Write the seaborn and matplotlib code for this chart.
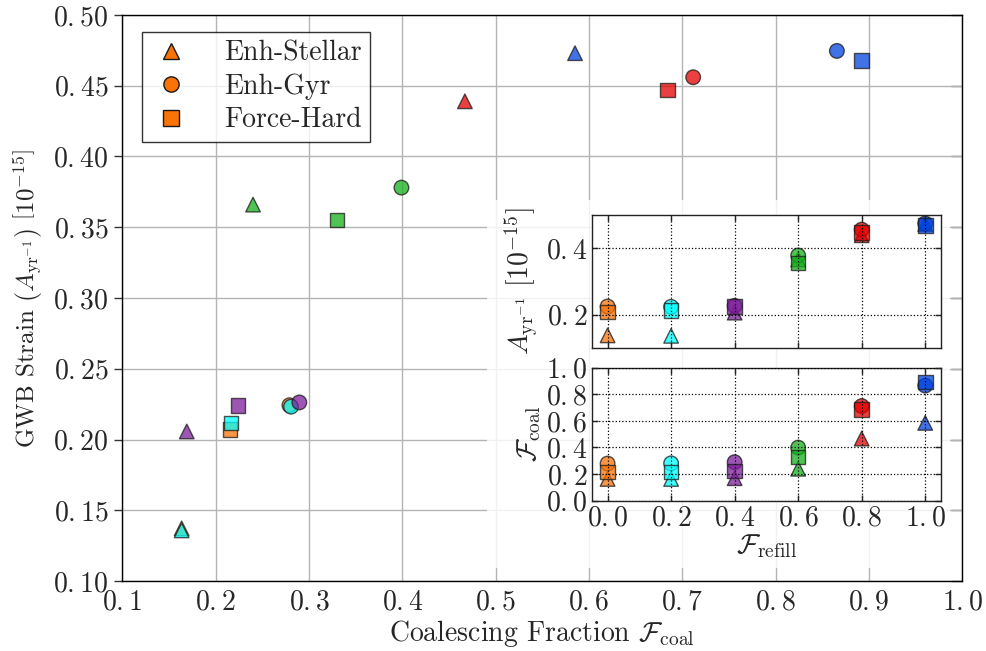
import matplotlib
matplotlib.use("Agg")
import matplotlib.pyplot as plt
from matplotlib.lines import Line2D
from matplotlib.patches import Rectangle
from matplotlib.ticker import FuncFormatter, FixedLocator
import numpy as np
import pandas as pd
import seaborn as sns

# Refill fractions and the colour used for each one
refill = [0.0, 0.2, 0.4, 0.6, 0.8, 1.0]
refill_colors = ["#f97306", "#00ffff", "#7e1e9c", "#15b01a", "#e50000", "#0343df"]

# Loss-cone models
models = ["Enh-Stellar", "Enh-Gyr", "Force-Hard"]
model_markers = {"Enh-Stellar": "^", "Enh-Gyr": "o", "Force-Hard": "s"}

# Coalescing fraction per model, one value per refill fraction
fcoal_stellar = [0.1635, 0.1635, 0.169, 0.240, 0.467, 0.585]
fcoal_gyr = [0.279, 0.2807, 0.2896, 0.399, 0.7116, 0.8656]
fcoal_hard = [0.2153, 0.2164, 0.224, 0.330, 0.684, 0.8917]

# GWB strain amplitude at f = 1/yr, units of 1e-15
strain_stellar = [0.1372, 0.1358, 0.2057, 0.366, 0.439, 0.473]
strain_gyr = [0.2242, 0.2232, 0.2262, 0.378, 0.456, 0.4746]
strain_hard = [0.207, 0.2117, 0.224, 0.355, 0.447, 0.4677]

fcoal = {"Enh-Stellar": fcoal_stellar, "Enh-Gyr": fcoal_gyr, "Force-Hard": fcoal_hard}
strain = {"Enh-Stellar": strain_stellar, "Enh-Gyr": strain_gyr, "Force-Hard": strain_hard}

rows = []
for i, r in enumerate(refill):
    for m in models:
        rows.append({"refill": r, "model": m, "fcoal": fcoal[m][i], "strain": strain[m][i]})
df = pd.DataFrame(rows)

sns.set_theme(style="white")
plt.rcParams.update({
    "font.family": "serif",
    "font.serif": ["cmr10", "DejaVu Serif"],
    "mathtext.fontset": "cm",
    "axes.formatter.use_mathtext": True,
    "axes.unicode_minus": False,
})


def math_fmt(ndig):
    # math-mode tick labels, decimal point set as punctuation
    def f(v, pos):
        s = f"{v:.{ndig}f}"
        return "$" + s.replace(".", ".{}") + "$"
    return FuncFormatter(f)


palette = dict(zip(refill, refill_colors))
scatter_kw = dict(hue="refill", style="model", palette=palette, markers=model_markers,
                  hue_order=refill, style_order=models, s=110, alpha=0.75,
                  edgecolor="k", linewidth=1.0, legend=False)

fig = plt.figure(figsize=(9.87, 6.51), dpi=100)

# ---- main panel: strain vs coalescing fraction ----
ax = fig.add_axes([0.124, 0.1075, 0.851, 0.8695])
sns.scatterplot(data=df, x="fcoal", y="strain", ax=ax, zorder=3, **scatter_kw)
ax.set_xlim(0.1, 1.0)
ax.set_ylim(0.10, 0.50)
ax.xaxis.set_major_locator(FixedLocator(np.arange(0.1, 1.01, 0.1)))
ax.yaxis.set_major_locator(FixedLocator(np.arange(0.10, 0.501, 0.05)))
ax.xaxis.set_major_formatter(math_fmt(1))
ax.yaxis.set_major_formatter(math_fmt(2))
ax.grid(True, color="#b4b4b4", linewidth=1.0, linestyle="-")
ax.set_axisbelow(True)
for sp in ax.spines.values():
    sp.set_color("black")
    sp.set_linewidth(1.0)
ax.tick_params(axis="y", direction="out", length=6, width=1, color="#333333",
               labelsize=20, pad=4, left=True, right=False)
ax.tick_params(axis="x", direction="in", length=0, labelsize=20, pad=6, bottom=True)
sec = ax.secondary_yaxis("right")
sec.yaxis.set_major_locator(FixedLocator(np.arange(0.10, 0.501, 0.05)))
sec.tick_params(direction="in", length=8, width=1, color="#555555", labelright=False)
sec.spines["right"].set_visible(False)
ax.set_xlabel(r"Coalescing Fraction $\mathcal{F}_{\rm coal}$", fontsize=20, labelpad=2)
ax.set_ylabel(r"GWB Strain $\left(A_{\rm yr^{-1}}\right)$ $\left[10^{-15}\right]$",
              fontsize=18, labelpad=6)

handles = [Line2D([], [], linestyle="None", marker=model_markers[m], markersize=11,
                  markerfacecolor="#f97306", markeredgecolor="k", markeredgewidth=1.0)
           for m in models]
leg = ax.legend(handles, models, loc="upper left", bbox_to_anchor=(0.023, 0.97),
                borderaxespad=0, fontsize=20, frameon=True, fancybox=False,
                edgecolor="black", framealpha=0.8, handlelength=1.5,
                handletextpad=1.15, labelspacing=0.25, borderpad=0.3)
leg.get_frame().set_linewidth(1.0)

# translucent backdrop behind the inset panels
fig.add_artist(Rectangle((0.4934, 0.1275), 0.469, 0.565, transform=fig.transFigure,
                         facecolor="white", edgecolor="none", alpha=0.82, zorder=1))

# ---- inset panels: strain and coalescing fraction vs refill fraction ----
ax_top = fig.add_axes([0.5995, 0.4659, 0.354, 0.2038], zorder=2)
ax_bot = fig.add_axes([0.5995, 0.2309, 0.354, 0.2043], zorder=2)
sns.scatterplot(data=df, x="refill", y="strain", ax=ax_top, zorder=2, **scatter_kw)
sns.scatterplot(data=df, x="refill", y="fcoal", ax=ax_bot, zorder=2, **scatter_kw)

for a in (ax_top, ax_bot):
    a.set_facecolor("white")
    a.set_xlim(-0.05, 1.05)
    a.xaxis.set_major_locator(FixedLocator(refill))
    a.xaxis.set_major_formatter(math_fmt(1))
    a.yaxis.set_major_formatter(math_fmt(1))
    a.grid(True, color="black", linestyle=":", linewidth=0.9)
    a.set_axisbelow(False)
    for sp in a.spines.values():
        sp.set_color("#222222")
        sp.set_linewidth(1.0)
    a.tick_params(direction="in", length=4, width=1, color="#222222", labelsize=20,
                  top=True, right=True, bottom=True, left=True, pad=3)

ax_top.set_ylim(0.1, 0.5)
ax_top.yaxis.set_major_locator(FixedLocator([0.2, 0.4]))
ax_top.tick_params(labelbottom=False)
ax_top.set_xlabel("")
ax_top.set_ylabel(r"$A_{\rm yr^{-1}}\ [10^{-15}]$", fontsize=20, labelpad=4)

ax_bot.set_ylim(0.0, 1.0)
ax_bot.yaxis.set_major_locator(FixedLocator(np.arange(0.0, 1.01, 0.2)))
ax_bot.set_xlabel(r"$\mathcal{F}_{\rm refill}$", fontsize=20, labelpad=1)
ax_bot.set_ylabel(r"$\mathcal{F}_{\rm coal}$", fontsize=20, labelpad=2)

fig.savefig("out.png", dpi=100)
